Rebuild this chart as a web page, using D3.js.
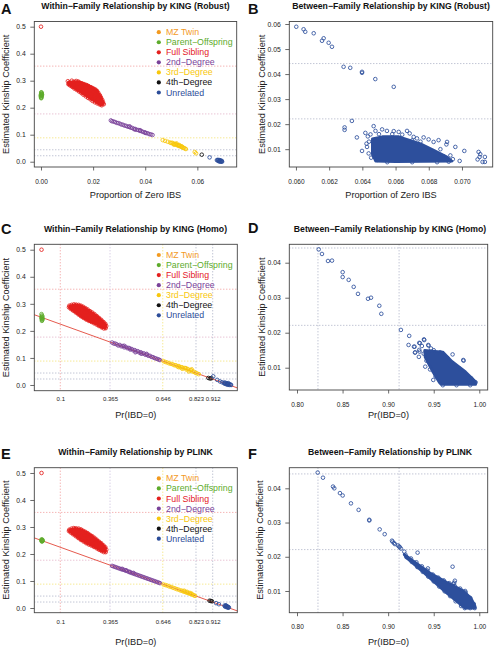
<!DOCTYPE html>
<html><head><meta charset="utf-8">
<script src="https://cdn.jsdelivr.net/npm/d3@7"></script>
<style>
body{margin:0;background:#fff}
svg{display:block}
text{font-family:"Liberation Sans",Arial,Helvetica,sans-serif}
</style>
</head><body>
<svg id="chart" width="494" height="648"></svg>
<script>
// ---------- legend / categories ----------
const categories = ["MZ Twin","Parent\u2212Offspring","Full Sibling","2nd\u2212Degree","3rd\u2212Degree","4th\u2212Degree","Unrelated"];
const catColors  = ["#F39A1F","#5DAB2B","#E4201E","#7A4299","#F8C70C","#111111","#2C4D99"];
const betweenColor = "#2D4F9C";

// thresholds
const kinThresholds = [0.354,0.177,0.0884,0.0442,0.0221];
const kinThreshColors = ["#EE8A8A","#DDA2BC","#F2DC55","#9EA4BC","#9EA4BC"];
const ibdThresholds = [0.1,0.365,0.646,0.823,0.912];
const ibdThreshColors = ["#EE8A8A","#C2B2D8","#F2DC55","#9EA4BC","#9EA4BC"];
const betweenH = [0.0442,0.0221];
const betweenV = [0.823,0.912];
const regLine = [[-0.05,0.2625],[1.05,-0.0125]];

// tick labels
const ticksA_x = [0,0.02,0.04,0.06];
const ticksWithin_y = [0,0.1,0.2,0.3,0.4,0.5];
const ticksB_x = [0.060,0.062,0.064,0.066,0.068,0.070];
const ticksB_y = [0.01,0.02,0.03,0.04,0.05,0.06];
const ticksIBD_x = [0.1,0.365,0.646,0.823,0.912];
const ticksIBD_lab = ["0.1","0.365","0.646","0.823","0.912"];
const ticksDF_x = [0.80,0.85,0.90,0.95,1.00];
const ticksDF_y = [0.01,0.02,0.03,0.04];

// ---------- Panel A : KING robust, within ----------
const aMZ = [[0.0000,0.500]];
const aPO = [[0.0000,0.237],[0.0000,0.242],[0.0001,0.246],[0.0000,0.250],[0.0002,0.253],[0.0001,0.257],[0.0003,0.244],[0.0002,0.239],[0.0004,0.248],[0.0001,0.235],[0.0003,0.251],[-0.0001,0.245],[0.0002,0.256]];
const aFSHull = [[0.0105,0.295],[0.0143,0.297],[0.0181,0.283],[0.0214,0.265],[0.0232,0.236],[0.0240,0.214],[0.0230,0.209],[0.0188,0.234],[0.0149,0.259],[0.0105,0.286]];
const aFS = [[0.0103,0.298],[0.0110,0.293],[0.0118,0.300],[0.0126,0.296],[0.0135,0.299],[0.0143,0.297],[0.0150,0.292],[0.0158,0.290],[0.0166,0.287],[0.0175,0.284],[0.0183,0.280],[0.0192,0.276],[0.0200,0.272],[0.0208,0.268],[0.0215,0.262],[0.0220,0.255],[0.0226,0.246],[0.0230,0.238],[0.0235,0.229],[0.0238,0.221],[0.0241,0.213],[0.0233,0.209],[0.0225,0.212],[0.0216,0.216],[0.0207,0.220],[0.0198,0.225],[0.0190,0.231],[0.0181,0.236],[0.0172,0.242],[0.0163,0.248],[0.0155,0.254],[0.0146,0.260],[0.0137,0.266],[0.0128,0.271],[0.0120,0.277],[0.0112,0.282],[0.0105,0.287],[0.0115,0.290],[0.0130,0.285],[0.0145,0.278],[0.0160,0.270],[0.0175,0.262],[0.0190,0.252],[0.0205,0.242],[0.0218,0.232],[0.0228,0.222],[0.0140,0.288],[0.0170,0.275],[0.0200,0.258]];
const aD2 = [[0.0268,0.153],[0.0272,0.150],[0.0278,0.149],[0.0284,0.147],[0.0290,0.144],[0.0296,0.143],[0.0302,0.141],[0.0308,0.138],[0.0314,0.137],[0.0320,0.134],[0.0326,0.133],[0.0332,0.130],[0.0338,0.129],[0.0344,0.126],[0.0350,0.125],[0.0356,0.122],[0.0362,0.121],[0.0368,0.118],[0.0374,0.117],[0.0380,0.114],[0.0386,0.113],[0.0392,0.110],[0.0398,0.109],[0.0404,0.106],[0.0410,0.105],[0.0416,0.102],[0.0422,0.101],[0.0428,0.099],[0.0340,0.131],[0.0360,0.119],[0.0380,0.117],[0.0400,0.107]];
const aD3 = [[0.0467,0.080],[0.0476,0.077],[0.0486,0.074],[0.0495,0.071],[0.0500,0.069],[0.0504,0.070],[0.0508,0.067],[0.0512,0.066],[0.0515,0.064],[0.0518,0.065],[0.0521,0.062],[0.0524,0.061],[0.0527,0.060],[0.0530,0.058],[0.0533,0.059],[0.0536,0.056],[0.0539,0.055],[0.0542,0.054],[0.0545,0.052],[0.0548,0.051],[0.0552,0.049],[0.0556,0.047],[0.0530,0.062],[0.0520,0.068],[0.0540,0.057],[0.0510,0.063],[0.0590,0.036],[0.0595,0.031]];
const aD4 = [[0.0617,0.026]];
const aUN = [[0.0647,0.016],[0.0675,0.006],[0.0678,0.004],[0.0681,0.005],[0.0684,0.003],[0.0686,0.006],[0.0688,0.002],[0.0690,0.004],[0.0692,0.001],[0.0694,0.003],[0.0683,0.001],[0.0679,0.007],[0.0689,0.000],[0.0695,0.000],[0.0686,0.004]];

// ---------- Panel B : KING robust, between ----------
const bHull = [[0.0646,0.0142],[0.0652,0.0150],[0.0662,0.0150],[0.0675,0.0122],[0.0683,0.0096],[0.0691,0.0069],[0.0694,0.0052],[0.0660,0.0050],[0.0648,0.0052],[0.0646,0.0080]];
const bPts = [[0.06002,0.0589],[0.06046,0.0579],[0.06056,0.0569],[0.06107,0.0563],[0.06157,0.0533],[0.06167,0.0543],[0.06197,0.0525],[0.06217,0.0509],[0.06287,0.0429],[0.06327,0.0425],[0.06398,0.0409],[0.06398,0.0405],[0.06478,0.0380],[0.06589,0.0349],[0.06337,0.0213],[0.06293,0.0187],[0.06293,0.0177],[0.06367,0.0147],[0.06398,0.0093],[0.06468,0.0192],
[0.06418,0.0165],[0.06433,0.0151],[0.06449,0.0159],[0.06479,0.0173],[0.06519,0.0179],[0.06548,0.0173],[0.06589,0.0172],[0.06619,0.0169],[0.06669,0.0173],[0.06685,0.0163],[0.06709,0.0149],[0.06729,0.0143],[0.06769,0.0147],[0.06799,0.0139],[0.06829,0.0129],[0.06859,0.0136],[0.06910,0.0129],[0.06906,0.0119],[0.06960,0.0109],[0.07014,0.0093],[0.06986,0.0053],[0.06890,0.0071],[0.06428,0.0109],[0.06438,0.0083],[0.06453,0.0066],[0.06469,0.0073],[0.06489,0.0057],[0.06440,0.0130],[0.06425,0.0122],[0.06500,0.0160],[0.06580,0.0160],[0.06640,0.0158],[0.06700,0.0135],[0.06750,0.0130],[0.06870,0.0100],[0.06930,0.0075],[0.06945,0.0060],[0.06920,0.0050],[0.06850,0.0048],[0.06700,0.0048],[0.06550,0.0048],
[0.07100,0.0089],[0.07110,0.0080],[0.07094,0.0059],[0.07124,0.0049],[0.07138,0.0069],[0.07138,0.0049],[0.07106,0.0069]];

// ---------- Panel C : KING homo, within ----------
const cMZ = [[0.000,0.500]];
const cPO = [[0.000,0.262],[0.002,0.257],[0.000,0.252],[0.004,0.248],[0.001,0.244],[0.003,0.240],[0.000,0.247],[0.005,0.253],[0.002,0.237],[0.006,0.243]];
const cFSHull = [[0.150,0.292],[0.180,0.297],[0.210,0.293],[0.240,0.281],[0.270,0.267],[0.300,0.252],[0.325,0.237],[0.343,0.222],[0.340,0.210],[0.320,0.213],[0.294,0.224],[0.265,0.233],[0.240,0.241],[0.210,0.253],[0.187,0.265],[0.165,0.276],[0.148,0.286]];
const cFS = [[0.148,0.293],[0.160,0.296],[0.172,0.298],[0.185,0.297],[0.198,0.296],[0.210,0.293],[0.222,0.289],[0.234,0.284],[0.246,0.279],[0.258,0.273],[0.270,0.268],[0.282,0.262],[0.294,0.255],[0.306,0.248],[0.318,0.241],[0.330,0.233],[0.340,0.226],[0.345,0.218],[0.342,0.210],[0.332,0.209],[0.320,0.213],[0.306,0.218],[0.294,0.223],[0.280,0.228],[0.266,0.233],[0.252,0.237],[0.238,0.242],[0.224,0.248],[0.210,0.254],[0.196,0.261],[0.182,0.268],[0.168,0.275],[0.156,0.281],[0.146,0.287],[0.190,0.285],[0.230,0.270],[0.270,0.250],[0.310,0.232],[0.200,0.278],[0.250,0.258],[0.290,0.240]];
const cD2 = [[0.376,0.157],[0.385,0.153],[0.393,0.153],[0.401,0.150],[0.409,0.146],[0.417,0.148],[0.425,0.143],[0.433,0.144],[0.441,0.139],[0.449,0.141],[0.457,0.136],[0.465,0.137],[0.473,0.131],[0.481,0.133],[0.489,0.128],[0.497,0.129],[0.505,0.124],[0.513,0.125],[0.521,0.120],[0.529,0.121],[0.537,0.116],[0.545,0.117],[0.553,0.112],[0.561,0.112],[0.569,0.108],[0.577,0.108],[0.585,0.104],[0.593,0.103],[0.601,0.100],[0.609,0.098],[0.617,0.096],[0.625,0.094],[0.631,0.092],[0.440,0.145],[0.470,0.135],[0.500,0.121],[0.530,0.116],[0.560,0.115]];
const cD3 = [[0.650,0.088],[0.660,0.085],[0.670,0.083],[0.680,0.080],[0.690,0.078],[0.700,0.076],[0.708,0.073],[0.716,0.073],[0.724,0.069],[0.732,0.070],[0.740,0.065],[0.748,0.066],[0.756,0.062],[0.764,0.063],[0.772,0.057],[0.780,0.059],[0.788,0.054],[0.796,0.055],[0.804,0.050],[0.812,0.049],[0.820,0.045],[0.828,0.043],[0.838,0.040],[0.750,0.060],[0.770,0.062],[0.785,0.050],[0.730,0.066],[0.800,0.058]];
const cD4 = [[0.889,0.026],[0.898,0.024],[0.905,0.025]];
const cUN = [[0.915,0.032],[0.936,0.019],[0.951,0.013],[0.962,0.010],[0.972,0.008],[0.978,0.009],[0.984,0.006],[0.990,0.005],[0.996,0.004],[1.002,0.003],[1.008,0.001],[0.980,0.004],[0.988,0.002],[0.995,0.007],[1.000,0.000],[0.975,0.005],[0.992,0.001],[1.010,0.000]];

// ---------- Panel D : KING homo, between ----------
const dHull = [[0.9400,0.0150],[0.9600,0.0145],[0.9700,0.0118],[0.9850,0.0088],[0.9960,0.0060],[0.9960,0.0052],[0.9580,0.0052],[0.9560,0.0058],[0.9490,0.0088],[0.9405,0.0130]];
const dPts = [[0.8238,0.0438],[0.8274,0.0425],[0.8340,0.0405],[0.8384,0.0406],[0.8501,0.0373],[0.8501,0.0359],[0.8567,0.0351],[0.8622,0.0331],[0.8669,0.0311],[0.8779,0.0297],[0.8812,0.0300],[0.8903,0.0277],[0.8925,0.0254],[0.9140,0.0208],[0.9231,0.0191],[0.9224,0.0165],[0.9290,0.0160],[0.9341,0.0171],[0.9396,0.0179],[0.9370,0.0162],[0.9297,0.0144],[0.9345,0.0146],[0.9337,0.0131],[0.9444,0.0163],[0.9571,0.0144],[0.9707,0.0138],[0.9828,0.0120],[0.9407,0.0103],[0.9283,0.0160],[0.9349,0.0170],[0.9393,0.0181],[0.9440,0.0165],[0.9294,0.0143],[0.9341,0.0151],[0.9587,0.0141],[0.9824,0.0122],[0.9495,0.0065],[0.9390,0.0140],[0.9420,0.0120],[0.9460,0.0095],[0.9520,0.0075],[0.9600,0.0050],[0.9750,0.0050],[0.9900,0.0050],[0.9960,0.0058],[0.9910,0.0070],[0.9780,0.0098],[0.9650,0.0128],[0.9500,0.0150],[0.9470,0.0155],[0.9530,0.0140]];

// ---------- Panel E : PLINK, within ----------
const eMZ = [[0.000,0.500]];
const ePO = [[0.000,0.254],[0.003,0.251],[0.001,0.248],[0.005,0.250],[0.002,0.246],[0.004,0.253],[0.000,0.250],[0.006,0.248],[0.002,0.252]];
const eFSHull = [[0.150,0.290],[0.180,0.295],[0.210,0.291],[0.240,0.280],[0.270,0.266],[0.300,0.250],[0.325,0.236],[0.342,0.222],[0.340,0.208],[0.320,0.211],[0.294,0.222],[0.265,0.232],[0.240,0.240],[0.210,0.252],[0.187,0.264],[0.165,0.275],[0.148,0.284]];
const eFS = [[0.148,0.290],[0.160,0.294],[0.172,0.296],[0.185,0.295],[0.198,0.294],[0.210,0.291],[0.222,0.286],[0.234,0.282],[0.246,0.277],[0.258,0.271],[0.270,0.266],[0.282,0.260],[0.294,0.253],[0.306,0.246],[0.318,0.240],[0.330,0.232],[0.340,0.225],[0.345,0.216],[0.342,0.207],[0.332,0.207],[0.320,0.211],[0.306,0.216],[0.294,0.221],[0.280,0.226],[0.266,0.231],[0.252,0.235],[0.238,0.240],[0.224,0.246],[0.210,0.252],[0.196,0.259],[0.182,0.266],[0.168,0.273],[0.156,0.279],[0.146,0.285],[0.190,0.283],[0.230,0.268],[0.270,0.248],[0.310,0.230],[0.200,0.276],[0.250,0.256],[0.290,0.238]];
const eD2 = [[0.376,0.156],[0.384,0.154],[0.392,0.152],[0.400,0.150],[0.408,0.148],[0.416,0.146],[0.424,0.144],[0.432,0.142],[0.440,0.141],[0.448,0.138],[0.456,0.137],[0.464,0.134],[0.472,0.132],[0.480,0.130],[0.488,0.128],[0.496,0.126],[0.504,0.124],[0.512,0.122],[0.520,0.120],[0.528,0.118],[0.536,0.116],[0.544,0.114],[0.552,0.112],[0.560,0.110],[0.568,0.108],[0.576,0.106],[0.584,0.104],[0.592,0.102],[0.600,0.100],[0.608,0.098],[0.616,0.096],[0.624,0.094],[0.631,0.092],[0.430,0.145],[0.450,0.140],[0.470,0.134],[0.490,0.130]];
const eD3 = [[0.650,0.087],[0.660,0.085],[0.670,0.083],[0.680,0.080],[0.690,0.078],[0.700,0.075],[0.710,0.073],[0.720,0.070],[0.730,0.068],[0.740,0.065],[0.748,0.064],[0.756,0.061],[0.764,0.060],[0.772,0.057],[0.780,0.056],[0.788,0.053],[0.796,0.052],[0.804,0.049],[0.812,0.047],[0.818,0.045],[0.760,0.064],[0.775,0.060],[0.790,0.056],[0.800,0.053]];
const eD4 = [[0.895,0.027],[0.902,0.026],[0.908,0.025]];
const eUN = [[0.930,0.018],[0.945,0.014],[0.975,0.009],[0.980,0.007],[0.984,0.008],[0.988,0.005],[0.992,0.004],[0.996,0.003],[0.978,0.005],[0.986,0.003],[0.990,0.006],[0.994,0.001],[0.998,0.002],[0.982,0.010]];

// ---------- Panel F : PLINK, between ----------
const fHull = [[0.9175,0.0207],[0.9458,0.0153],[0.9641,0.0126],[0.9824,0.0101],[0.9910,0.0079],[0.9955,0.0055],[0.9950,0.0050],[0.9840,0.0050],[0.9641,0.0094],[0.9385,0.0155],[0.9200,0.0197]];
const fPts = [[0.8227,0.0446],[0.8285,0.0431],[0.8395,0.0405],[0.8409,0.0400],[0.8471,0.0386],[0.8501,0.0379],[0.8592,0.0356],[0.8676,0.0337],[0.8793,0.0308],[0.8793,0.0306],[0.8907,0.0280],[0.8962,0.0266],[0.9042,0.0247],[0.9064,0.0240],[0.9107,0.0233],[0.9126,0.0228],[0.9140,0.0224],[0.9177,0.0215],[0.9323,0.0212],[0.9436,0.0166],[0.9707,0.0171],[0.9725,0.0124],[0.9714,0.0121],[0.9845,0.0100],[0.9049,0.0244],[0.9075,0.0237],[0.9122,0.0230],[0.9659,0.0120],[0.9732,0.0130],[0.9824,0.0095],[0.9604,0.0127],
[0.9190,0.0206],[0.9250,0.0195],[0.9310,0.0184],[0.9370,0.0172],[0.9430,0.0160],[0.9490,0.0148],[0.9550,0.0139],[0.9610,0.0131],[0.9670,0.0123],[0.9730,0.0115],[0.9790,0.0107],[0.9850,0.0096],[0.9900,0.0080],[0.9940,0.0062],[0.9950,0.0050],
[0.9200,0.0199],[0.9260,0.0185],[0.9320,0.0170],[0.9380,0.0156],[0.9440,0.0142],[0.9500,0.0128],[0.9560,0.0113],[0.9620,0.0099],[0.9680,0.0085],[0.9740,0.0070],[0.9800,0.0056],[0.9840,0.0050],[0.9900,0.0050]];

// ---------- drawing ----------
const svg = d3.select("#chart");
const FONT_YTICK = 6.8, FONT_XTICK = 6.5, FONT_XTICK_IBD = 6, FONT_LAB = 9.2, FONT_TITLE = 8.7, FONT_LEG = 8.8;
let clipId = 0;

function drawPanel(o){
  const [bx0,bx1,by0,by1] = o.box;
  const x = d3.scaleLinear().domain(o.xd).range([bx0,bx1]);
  const y = d3.scaleLinear().domain(o.yd).range([by1,by0]);
  const g = svg.append("g");
  const id = "clip"+(clipId++);
  g.append("clipPath").attr("id",id).append("rect")
    .attr("x",bx0).attr("y",by0).attr("width",bx1-bx0).attr("height",by1-by0);
  const pg = g.append("g").attr("clip-path",`url(#${id})`);

  (o.hLines||[]).forEach(([v,c])=>{
    pg.append("line").attr("x1",bx0).attr("x2",bx1).attr("y1",y(v)).attr("y2",y(v))
      .attr("stroke",c).attr("stroke-width",0.9).attr("stroke-dasharray","1,2");
  });
  (o.vLines||[]).forEach(([v,c])=>{
    pg.append("line").attr("y1",by0).attr("y2",by1).attr("x1",x(v)).attr("x2",x(v))
      .attr("stroke",c).attr("stroke-width",0.9).attr("stroke-dasharray","1,2");
  });

  const line = d3.line().x(d=>x(d[0])).y(d=>y(d[1]));
  if(o.reg){
    pg.append("path").attr("d",line(regLine)).attr("stroke","#E2473A").attr("stroke-width",0.9).attr("fill","none");
  }
  const hullLine = d3.line().x(d=>x(d[0])).y(d=>y(d[1])).curve(d3.curveLinearClosed);
  o.layers.forEach(L=>{
    if(L.hull){
      pg.append("path").attr("d",hullLine(L.hull)).attr("fill",L.color)
        .attr("stroke",L.color).attr("stroke-width",2.6).attr("stroke-linejoin","round");
    }
    pg.selectAll(null).data(L.pts).join("circle")
      .attr("cx",d=>x(d[0])).attr("cy",d=>y(d[1])).attr("r",1.8)
      .attr("fill","none").attr("stroke",L.color).attr("stroke-width",0.85);
  });

  g.append("rect").attr("x",bx0).attr("y",by0).attr("width",bx1-bx0).attr("height",by1-by0)
    .attr("fill","none").attr("stroke","#444").attr("stroke-width",0.9);

  const ya = g.append("g").attr("transform",`translate(${bx0},0)`)
    .call(d3.axisLeft(y).tickValues(o.yt).tickFormat(d3.format(o.yf)).tickSize(4).tickPadding(4.6));
  ya.select(".domain").remove();
  ya.selectAll("line").attr("stroke","#444").attr("stroke-width",0.8);
  ya.selectAll("text").attr("font-size",FONT_YTICK).attr("fill","#222")
    .attr("font-family","Liberation Sans, Arial, sans-serif");

  let xAxis = d3.axisBottom(x).tickValues(o.xt).tickSize(o.xTick).tickPadding(o.xPad);
  xAxis = o.xLabels ? xAxis.tickFormat((d,i)=>o.xLabels[i]) : xAxis.tickFormat(d3.format(o.xf));
  const xa = g.append("g").attr("transform",`translate(0,${by1})`).call(xAxis);
  xa.select(".domain").remove();
  xa.selectAll("line").attr("stroke","#444").attr("stroke-width",0.8);
  xa.selectAll("text").attr("font-size",o.xLabels?FONT_XTICK_IBD:FONT_XTICK).attr("fill","#222")
    .attr("font-family","Liberation Sans, Arial, sans-serif");

  g.append("text").attr("x",o.titleX).attr("y",o.titleY).attr("text-anchor","middle")
    .attr("font-size",FONT_TITLE).attr("font-weight","bold").attr("fill","#111").text(o.title);
  g.append("text").attr("x",o.letterX).attr("y",o.letterY)
    .attr("font-size",14.5).attr("font-weight","bold").attr("fill","#111").text(o.letter);
  g.append("text").attr("x",(bx0+bx1)/2).attr("y",o.xlabY).attr("text-anchor","middle")
    .attr("font-size",FONT_LAB).attr("fill","#222").text(o.xlab);
  g.append("text").attr("transform",`translate(${o.ylabX},${(by0+by1)/2}) rotate(-90)`)
    .attr("text-anchor","middle").attr("dominant-baseline","central")
    .attr("font-size",FONT_LAB).attr("fill","#222").text("Estimated Kinship Coefficient");

  if(o.legend){
    const lg = g.append("g");
    categories.forEach((c,i)=>{
      const yy = by0 + 10.7 + i*10.05;
      lg.append("circle").attr("cx",158.8).attr("cy",yy).attr("r",2.1).attr("fill",catColors[i]);
      lg.append("text").attr("x",166).attr("y",yy).attr("dominant-baseline","central")
        .attr("font-size",FONT_LEG).attr("fill",catColors[i]).text(c);
    });
  }
}

const withinH = kinThresholds.map((v,i)=>[v,kinThreshColors[i]]);
const withinV = ibdThresholds.map((v,i)=>[v,ibdThreshColors[i]]);
const betwH = betweenH.map(v=>[v,"#9EA4BC"]);
const betwV = betweenV.map(v=>[v,"#9EA4BC"]);
const withinLayers = (po,fsHull,fs,d2,d3s,d4,un,mz)=>[
  {pts:po,color:catColors[1]},
  {pts:fs,hull:fsHull,color:catColors[2]},
  {pts:d2,color:catColors[3]},
  {pts:d3s,color:catColors[4]},
  {pts:d4,color:catColors[5]},
  {pts:un,color:catColors[6]},
  {pts:mz,color:catColors[2]}
];

drawPanel({box:[34.3,236.7,21.5,167],xd:[-0.00257,0.0751],yd:[-0.0196,0.5192],
  xt:ticksA_x,xf:".2f",xTick:3.5,xPad:8.5,yt:ticksWithin_y,yf:".1f",
  title:"Within\u2212Family Relationship by KING (Robust)",titleX:135.5,titleY:8.5,
  letter:"A",letterX:1,letterY:13.6,xlab:"Proportion of Zero IBS",xlabY:198.3,ylabX:6,
  hLines:withinH,legend:true,
  layers:withinLayers(aPO,aFSHull,aFS,aD2,aD3,aD4,aUN,aMZ)});
drawPanel({box:[289.3,492.7,21.5,167],xd:[0.05960,0.07185],yd:[0.00288,0.0610],
  xt:ticksB_x,xf:".3f",xTick:3.5,xPad:8.5,yt:ticksB_y,yf:".2f",
  title:"Between\u2212Family Relationship by KING (Robust)",titleX:391,titleY:8.5,
  letter:"B",letterX:248,letterY:13.6,xlab:"Proportion of Zero IBS",xlabY:198.3,ylabX:261.5,
  hLines:betwH,
  layers:[{pts:bPts,hull:bHull,color:betweenColor}]});
drawPanel({box:[34.3,237.3,244.3,390.7],xd:[-0.0385,1.0431],yd:[-0.0211,0.520],
  xt:ticksIBD_x,xLabels:ticksIBD_lab,xTick:0,xPad:6,yt:ticksWithin_y,yf:".1f",
  title:"Within\u2212Family Relationship by KING (Homo)",titleX:135.5,titleY:232,
  letter:"C",letterX:1,letterY:233.8,xlab:"Pr(IBD=0)",xlabY:418.2,ylabX:6,
  hLines:withinH,vLines:withinV,reg:true,legend:true,
  layers:withinLayers(cPO,cFSHull,cFS,cD2,cD3,cD4,cUN,cMZ)});
drawPanel({box:[289.3,487.7,244.3,390],xd:[0.79155,1.00922],yd:[0.00363,0.04526],
  xt:ticksDF_x,xf:".2f",xTick:3.5,xPad:8.5,yt:ticksDF_y,yf:".2f",
  title:"Between\u2212Family Relationship by KING (Homo)",titleX:390,titleY:232,
  letter:"D",letterX:248,letterY:233,xlab:"Pr(IBD=0)",xlabY:418.2,ylabX:261.5,
  hLines:betwH,vLines:betwV,
  layers:[{pts:dPts,hull:dHull,color:betweenColor}]});
drawPanel({box:[34.3,237.3,467.7,612.7],xd:[-0.0385,1.0431],yd:[-0.0174,0.5196],
  xt:ticksIBD_x,xLabels:ticksIBD_lab,xTick:0,xPad:7,yt:ticksWithin_y,yf:".1f",
  title:"Within\u2212Family Relationship by PLINK",titleX:135.5,titleY:454.6,
  letter:"E",letterX:1,letterY:458.5,xlab:"Pr(IBD=0)",xlabY:644.8,ylabX:6,
  hLines:withinH,vLines:withinV,reg:true,legend:true,
  layers:withinLayers(ePO,eFSHull,eFS,eD2,eD3,eD4,eUN,eMZ)});
drawPanel({box:[289.3,487.7,467.7,612.7],xd:[0.79155,1.00922],yd:[0.00366,0.04602],
  xt:ticksDF_x,xf:".2f",xTick:3.5,xPad:8.5,yt:ticksDF_y,yf:".2f",
  title:"Between\u2212Family Relationship by PLINK",titleX:390,titleY:454.6,
  letter:"F",letterX:248,letterY:458.5,xlab:"Pr(IBD=0)",xlabY:644.8,ylabX:259.5,
  hLines:betwH,vLines:betwV,
  layers:[{pts:fPts,hull:fHull,color:betweenColor}]});
</script>
</body></html>
